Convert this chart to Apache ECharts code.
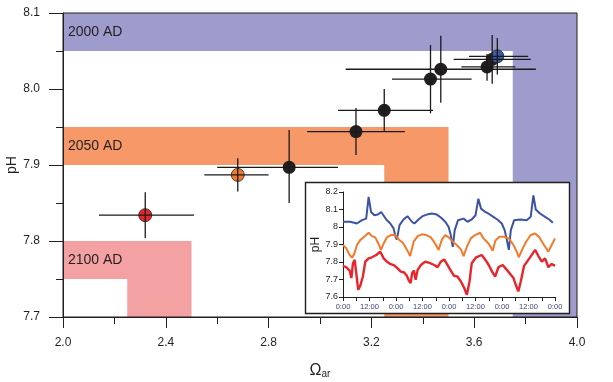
<!DOCTYPE html>
<html><head><meta charset="utf-8">
<script src="https://cdn.jsdelivr.net/npm/echarts@6/dist/echarts.min.js"></script>
<style>html,body{margin:0;padding:0;background:#fff}#c{width:613px;height:382px}</style>
</head><body><div id="c"></div>
<script>
// ---- main chart data ----
const omega   = [2.32, 2.68, 2.88, 3.14, 3.25, 3.43, 3.47, 3.65, 3.67, 3.69];
const ph      = [7.834, 7.887, 7.897, 7.944, 7.972, 8.013, 8.026, 8.029, 8.039, 8.043];
const omegaLo = [2.14, 2.55, 2.60, 2.95, 3.07, 3.28, 3.10, 3.55, 3.52, 3.58];
const omegaHi = [2.51, 2.80, 3.07, 3.33, 3.44, 3.59, 3.84, 3.76, 3.82, 3.81];
const phLo    = [7.804, 7.865, 7.850, 7.913, 7.944, 7.968, 7.982, 8.011, 8.007, 8.019];
const phHi    = [7.864, 7.909, 7.946, 7.975, 8.000, 8.058, 8.070, 8.046, 8.071, 8.067];
const pointKind = ['red','orange','black','black','black','black','black','black','black','blue'];

// scenario bands: [x0, x1, y0, y1, bandIndex]
const bandNames = ['2000 AD', '2050 AD', '2100 AD'];
const bandRects = [
  [2.00, 4.00, 8.05, 8.10, 0],
  [3.75, 4.00, 7.70, 8.05, 0],
  [2.00, 3.50, 7.90, 7.95, 1],
  [3.25, 3.50, 7.70, 7.90, 1],
  [2.00, 2.50, 7.75, 7.80, 2],
  [2.25, 2.50, 7.70, 7.75, 2]
];

// ---- inset time series (hours from start, pH) ----
const blueHours = [0,3.3,6.3,8.6,10.5,11.6,12.7,14.2,15.7,17.3,19.6,21.4,22.9,23.8,24.4,25.6,27.4,29.2,31.2,32.3,34.2,36,38,40.2,42.5,44.3,46.3,47.8,48.8,49.7,50.6,52.1,54.6,56.4,58.3,60,61.3,62.5,64.4,66.3,68.1,69.9,71.9,73.2,74.2,75.1,76,77.5,80.2,83.2,85,86.2,87.3,89.2,91.5,93.4,95];
const bluePH = [8.03,8.03,8.02,8.039,8.048,8.172,8.086,8.067,8.071,8.086,8.043,8.02,7.992,7.944,7.929,8.011,8.043,8.062,8.03,8.02,8.043,8.062,8.071,8.077,8.071,8.054,8.03,8.001,7.954,7.887,7.982,8.039,8.048,8.03,8.043,8.067,8.162,8.105,8.086,8.073,8.058,8.043,8.02,7.982,7.925,7.869,7.982,8.039,8.043,8.039,8.058,8.181,8.1,8.077,8.058,8.043,8.024];
const orangeHours = [0,1.5,3,4.1,5.1,6.3,7.8,9.6,11.6,13.1,14.6,16.1,17.2,18.4,19.9,21.7,23.7,25.2,27.1,28.9,30.4,32,33.8,35.7,37.7,39.8,41.7,43.3,44.8,46.3,47.9,49.7,51.5,53.4,54.6,56.1,57.9,59.8,62.1,63.6,65.9,67.8,69,70.8,72.9,75.1,77.2,78.7,79.6,81.1,82.9,85,87,88.9,91,93,94.5,96];
const orangePH = [7.897,7.878,7.84,7.825,7.846,7.897,7.925,7.944,7.967,7.948,7.941,7.903,7.869,7.906,7.941,7.954,7.954,7.929,7.91,7.872,7.834,7.916,7.948,7.958,7.954,7.941,7.906,7.869,7.929,7.954,7.941,7.916,7.897,7.872,7.834,7.887,7.935,7.954,7.967,7.935,7.906,7.865,7.922,7.944,7.944,7.935,7.897,7.859,7.827,7.869,7.916,7.954,7.963,7.941,7.897,7.859,7.897,7.935];
const redHours = [0,1.5,3,3.8,4.5,5.3,6,6.9,7.8,9,10.1,11.6,13.1,15.1,16.9,18.4,19.9,21.4,23.2,24.7,26.2,27.7,28.9,29.8,30.6,31.3,32.1,32.9,33.8,35.3,37.2,39.5,41.3,42.8,44.3,45.8,47.3,48.8,50.3,51.8,53.4,54.9,56.1,57.3,58.3,60.3,62.8,64.5,66,67.5,68.9,70.4,72.3,74.2,75.7,77.2,78.4,79.4,80.5,82,84.4,87,88.5,90,91.5,93,94.5,96];
const redPH = [7.778,7.77,7.751,7.708,7.793,7.812,7.736,7.641,7.664,7.717,7.802,7.821,7.827,7.84,7.859,7.821,7.802,7.789,7.781,7.764,7.745,7.74,7.721,7.694,7.679,7.736,7.751,7.698,7.755,7.783,7.802,7.793,7.783,7.77,7.802,7.815,7.783,7.751,7.721,7.717,7.689,7.651,7.613,7.689,7.793,7.827,7.84,7.812,7.783,7.745,7.717,7.77,7.783,7.755,7.732,7.708,7.664,7.632,7.689,7.778,7.821,7.869,7.834,7.802,7.821,7.77,7.789,7.778];

// ---- styles ----
const INK = '#231F20';
const FONT = 'Liberation Sans, Arial, sans-serif';
const bandColors = ['#9E9CCD', '#F69868', '#F4A1A3'];
const pointColors = {red:'#E8262A', orange:'#F07A2C', black:'#231F20', blue:'#3D5AA8'};

function zip(a, b) { const n = Math.min(a.length, b.length); const r = []; for (let i = 0; i < n; i++) r.push([a[i], b[i]]); return r; }

const chart = echarts.init(document.getElementById('c'), null, {renderer: 'canvas'});

const option = {
  animation: false,
  backgroundColor: '#fff',
  textStyle: {fontFamily: FONT},
  grid: [
    {left: 63, right: 36, top: 13, bottom: 65, show: true, borderColor: INK, borderWidth: 1, z: 3,
     containLabel: false, outerBoundsMode: 'none'},
    {left: 343, right: 58, top: 192, bottom: 85, z: 11, containLabel: false, outerBoundsMode: 'none'}
  ],
  graphic: [
    {type: 'rect', z: 10, shape: {x: 305.5, y: 182.5, width: 264, height: 131},
     style: {fill: '#fff', stroke: INK, lineWidth: 1.4}}
  ],
  xAxis: [
    {type: 'value', gridIndex: 0, min: 2, max: 4, interval: 0.4, z: 3,
     name: '{a|Ω}{b|ar}', nameLocation: 'middle', nameGap: 42, nameMoveOverlap: false,
     nameTextStyle: {color: INK, rich: {a: {fontSize: 16, color: INK, fontFamily: FONT, lineHeight: 20, verticalAlign: 'bottom'},
                                        b: {fontSize: 10, color: INK, fontFamily: FONT, lineHeight: 14, verticalAlign: 'bottom'}}},
     axisLine: {lineStyle: {color: INK, width: 1}},
     axisTick: {length: 11, lineStyle: {color: INK, width: 1}},
     minorTick: {show: true, splitNumber: 2, length: 7, lineStyle: {color: INK, width: 1}},
     splitLine: {show: false}, minorSplitLine: {show: false},
     axisLabel: {formatter: v => v.toFixed(1), fontSize: 12, margin: 20, color: INK, fontFamily: FONT}},
    {type: 'value', gridIndex: 1, min: 0, max: 96, interval: 6, z: 11,
     axisLine: {lineStyle: {color: INK, width: 1}},
     axisTick: {length: 4, lineStyle: {color: INK, width: 1}},
     splitLine: {show: false},
     axisLabel: {formatter: v => (v % 12 === 0 ? (v % 24 === 0 ? '0:00' : '12:00') : ''),
                 fontSize: 7.5, margin: 6, color: '#3A4677', fontFamily: FONT, showMinLabel: true, showMaxLabel: true}}
  ],
  yAxis: [
    {type: 'value', gridIndex: 0, min: 7.7, max: 8.1, interval: 0.1, z: 3,
     name: 'pH', nameLocation: 'middle', nameRotate: 90, nameGap: 44, nameMoveOverlap: false,
     nameTextStyle: {fontSize: 14, color: INK, fontFamily: FONT},
     axisLine: {lineStyle: {color: INK, width: 1}},
     axisTick: {length: 14, lineStyle: {color: INK, width: 1}},
     minorTick: {show: true, splitNumber: 2, length: 7, lineStyle: {color: INK, width: 1}},
     splitLine: {show: false}, minorSplitLine: {show: false},
     axisLabel: {formatter: v => v.toFixed(1), fontSize: 12, margin: 23, color: INK, fontFamily: FONT}},
    {type: 'value', gridIndex: 1, min: 7.6, max: 8.2, interval: 0.1, z: 11,
     name: 'pH', nameLocation: 'middle', nameRotate: 90, nameGap: 21, nameMoveOverlap: false,
     nameTextStyle: {fontSize: 12, color: INK, fontFamily: FONT},
     axisLine: {lineStyle: {color: INK, width: 1}},
     axisTick: {length: 4, lineStyle: {color: INK, width: 1}},
     splitLine: {show: false},
     axisLabel: {fontSize: 9, margin: 5, color: INK, fontFamily: FONT}}
  ],
  series: [
    {
      type: 'custom', xAxisIndex: 0, yAxisIndex: 0, z: 1, silent: true,
      data: bandRects,
      renderItem: function (params, api) {
        const x0 = api.value(0), x1 = api.value(1), y0 = api.value(2), y1 = api.value(3), b = api.value(4);
        const p0 = api.coord([x0, y1]);
        const p1 = api.coord([x1, y0]);
        const children = [{
          type: 'rect',
          shape: {x: p0[0], y: p0[1], width: p1[0] - p0[0], height: p1[1] - p0[1]},
          style: {fill: bandColors[b]}
        }];
        const first = bandRects.findIndex(r => r[4] === b) === params.dataIndex;
        if (first) {
          const pm = api.coord([x0, (y0 + y1) / 2]);
          children.push({
            type: 'text', z2: 5,
            style: {text: bandNames[b], x: pm[0] + 5, y: pm[1], fill: INK, fontSize: 14, fontFamily: FONT,
                    align: 'left', verticalAlign: 'middle', textAlign: 'left', textVerticalAlign: 'middle'}
          });
        }
        return {type: 'group', children: children};
      }
    },
    {
      type: 'scatter', xAxisIndex: 0, yAxisIndex: 0, z: 4, symbolSize: 13,
      data: omega.map((o, i) => ({value: [o, ph[i]],
        itemStyle: {color: pointColors[pointKind[i]], opacity: 1, borderColor: INK, borderWidth: pointKind[i] === 'black' ? 0 : 0.8}}))
    },
    {
      type: 'custom', xAxisIndex: 0, yAxisIndex: 0, z: 5, silent: true,
      data: omega.map((o, i) => [o, ph[i], omegaLo[i], omegaHi[i], phLo[i], phHi[i]]),
      renderItem: function (params, api) {
        const xl = api.coord([api.value(2), api.value(1)]);
        const xh = api.coord([api.value(3), api.value(1)]);
        const yl = api.coord([api.value(0), api.value(4)]);
        const yh = api.coord([api.value(0), api.value(5)]);
        const st = {stroke: '#1A1A1A', lineWidth: 1.3};
        return {type: 'group', children: [
          {type: 'line', shape: {x1: xl[0], y1: xl[1], x2: xh[0], y2: xh[1]}, style: st},
          {type: 'line', shape: {x1: yl[0], y1: yl[1], x2: yh[0], y2: yh[1]}, style: st}
        ]};
      }
    },
    {type: 'line', xAxisIndex: 1, yAxisIndex: 1, z: 12, showSymbol: false, data: zip(blueHours, bluePH),
     lineStyle: {color: '#3C52A5', width: 2}, itemStyle: {color: '#3C52A5'}},
    {type: 'line', xAxisIndex: 1, yAxisIndex: 1, z: 12, showSymbol: false, data: zip(orangeHours, orangePH),
     lineStyle: {color: '#F47A2A', width: 2}, itemStyle: {color: '#F47A2A'}},
    {type: 'line', xAxisIndex: 1, yAxisIndex: 1, z: 12, showSymbol: false, data: zip(redHours, redPH),
     lineStyle: {color: '#E9242B', width: 2.4}, itemStyle: {color: '#E9242B'}}
  ]
};
chart.setOption(option);
</script>
</body></html>
